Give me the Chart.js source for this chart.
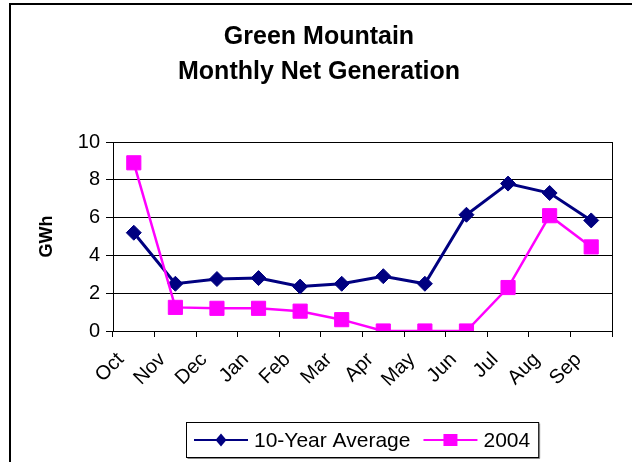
<!DOCTYPE html>
<html lang="en">
<head>
    <meta charset="UTF-8">
    <title>Green Mountain Monthly Net Generation</title>
    <style>
        body {
            margin: 0;
            background: #fff;
        }
        #wrap {
            position: relative;
            width: 632px;
            height: 462px;
        }
    </style>
    <script src="https://cdn.jsdelivr.net/npm/chart.js"></script>
</head>
<body>
    <div id="wrap">
        <canvas id="genChart" width="632" height="462"></canvas>
    </div>

    <script>
        // data (GWh)
        const months = ['Oct', 'Nov', 'Dec', 'Jan', 'Feb', 'Mar', 'Apr', 'May', 'Jun', 'Jul', 'Aug', 'Sep'];
        const tenYearAvg = [5.2, 2.5, 2.75, 2.8, 2.35, 2.5, 2.9, 2.5, 6.15, 7.8, 7.3, 5.85];
        const gen2004 = [8.9, 1.25, 1.2, 1.2, 1.05, 0.6, 0, 0, 0, 2.3, 6.1, 4.45];
        const seriesNames = ['10-Year Average', '2004'];
        const titleLines = ['Green Mountain', 'Monthly Net Generation'];
        const yTitle = 'GWh';
        const yMin = 0, yMax = 10, yStep = 2;

        const FONT = '"Liberation Sans", Arial, sans-serif';
        const NAVY = '#000080';
        const PINK = '#FF00FF';

        // outer frame + right edge of the plot box
        const framePlugin = {
            id: 'frame',
            beforeDraw(chart) {
                const ctx = chart.ctx;
                ctx.save();
                ctx.strokeStyle = '#000';
                ctx.lineWidth = 2;
                ctx.beginPath();
                ctx.moveTo(10, 470);
                ctx.lineTo(10, 4);
                ctx.lineTo(640, 4);
                ctx.stroke();
                ctx.restore();
            },
            afterDatasetsDraw(chart) {
                const a = chart.chartArea;
                const ctx = chart.ctx;
                ctx.save();
                ctx.strokeStyle = '#000';
                ctx.lineWidth = 1;
                ctx.beginPath();
                ctx.moveTo(Math.round(a.right) + 0.5, a.top);
                ctx.lineTo(Math.round(a.right) + 0.5, a.bottom + 6);
                ctx.stroke();
                ctx.restore();
            }
        };

        // Excel style legend: line with marker, boxed
        const legendPlugin = {
            id: 'excelLegend',
            afterDraw(chart) {
                const ctx = chart.ctx;
                const a = chart.chartArea;
                ctx.save();
                ctx.font = '21px ' + FONT;
                const sample = 54, gap = 6, between = 13, pad = 8;
                const sets = chart.data.datasets;
                let total = pad * 2;
                sets.forEach((ds, i) => {
                    total += sample + gap + ctx.measureText(ds.label).width;
                    if (i < sets.length - 1) total += between;
                });
                const cx = (a.left + a.right) / 2;
                const top = 422, h = 35;
                let x = Math.round(cx - total / 2);
                ctx.fillStyle = '#fff';
                ctx.fillRect(x, top, total, h);
                ctx.strokeStyle = '#888';
                ctx.lineWidth = 1;
                ctx.beginPath();
                ctx.moveTo(x + 1.5, top + h + 1.5);
                ctx.lineTo(x + total + 1.5, top + h + 1.5);
                ctx.lineTo(x + total + 1.5, top + 1.5);
                ctx.stroke();
                ctx.strokeStyle = '#000';
                ctx.strokeRect(x + 0.5, top + 0.5, total, h);
                const cy = top + h / 2 + 0.5;
                x += pad;
                sets.forEach((ds, i) => {
                    ctx.strokeStyle = ds.borderColor;
                    ctx.lineWidth = 2;
                    ctx.beginPath();
                    ctx.moveTo(x, cy);
                    ctx.lineTo(x + sample, cy);
                    ctx.stroke();
                    const mx = x + sample / 2;
                    ctx.fillStyle = ds.borderColor;
                    ctx.beginPath();
                    if (ds.pointStyle === 'rectRot') {
                        ctx.moveTo(mx, cy - 6.5);
                        ctx.lineTo(mx + 5.5, cy);
                        ctx.lineTo(mx, cy + 6.5);
                        ctx.lineTo(mx - 5.5, cy);
                        ctx.closePath();
                    } else {
                        ctx.rect(mx - 7, cy - 6, 14, 12);
                    }
                    ctx.fill();
                    x += sample + gap;
                    ctx.fillStyle = '#000';
                    ctx.textBaseline = 'middle';
                    ctx.fillText(ds.label, x, cy + 1);
                    x += ctx.measureText(ds.label).width + between;
                });
                ctx.restore();
            }
        };

        const ctx = document.getElementById('genChart').getContext('2d');
        const chart = new Chart(ctx, {
            type: 'line',
            data: {
                labels: months,
                datasets: [
                    {
                        label: seriesNames[0],
                        data: tenYearAvg,
                        borderColor: NAVY,
                        backgroundColor: NAVY,
                        borderWidth: 3,
                        pointStyle: 'rectRot',
                        pointRadius: 7.5,
                        pointBorderWidth: 1,
                        tension: 0,
                        order: 1
                    },
                    {
                        label: seriesNames[1],
                        data: gen2004,
                        borderColor: PINK,
                        backgroundColor: PINK,
                        borderWidth: 2.5,
                        pointStyle: 'rect',
                        pointRadius: 10,
                        pointBorderWidth: 1,
                        tension: 0,
                        order: 0
                    }
                ]
            },
            options: {
                responsive: false,
                animation: false,
                events: [],
                layout: {
                    padding: { left: 26, right: 20, top: 0, bottom: 0 }
                },
                plugins: {
                    legend: { display: false },
                    tooltip: { enabled: false },
                    title: {
                        display: true,
                        text: titleLines,
                        color: '#000',
                        font: { family: FONT, size: 25, weight: 'bold', lineHeight: 1.4 },
                        padding: { top: 20, bottom: 52 }
                    }
                },
                scales: {
                    x: {
                        offset: true,
                        afterFit(scale) { scale.height = 131; },
                        grid: {
                            offset: true,
                            drawOnChartArea: false,
                            color: '#000',
                            tickLength: 6
                        },
                        border: { color: '#000', width: 1 },
                        ticks: {
                            color: '#000',
                            font: { family: FONT, size: 20 },
                            minRotation: 45,
                            maxRotation: 45,
                            autoSkip: false,
                            labelOffset: -13,
                            padding: 11
                        }
                    },
                    y: {
                        min: yMin,
                        max: yMax,
                        afterFit(scale) { scale.width = 87; },
                        grid: {
                            color: '#000',
                            tickLength: 7
                        },
                        border: { color: '#000', width: 1 },
                        ticks: {
                            stepSize: yStep,
                            color: '#000',
                            font: { family: FONT, size: 20 },
                            padding: 6
                        },
                        title: {
                            display: true,
                            text: yTitle,
                            color: '#000',
                            font: { family: FONT, size: 18, weight: 'bold' },
                            padding: { top: 10, bottom: 0 }
                        }
                    }
                }
            },
            plugins: [framePlugin, legendPlugin]
        });
    </script>
</body>
</html>
